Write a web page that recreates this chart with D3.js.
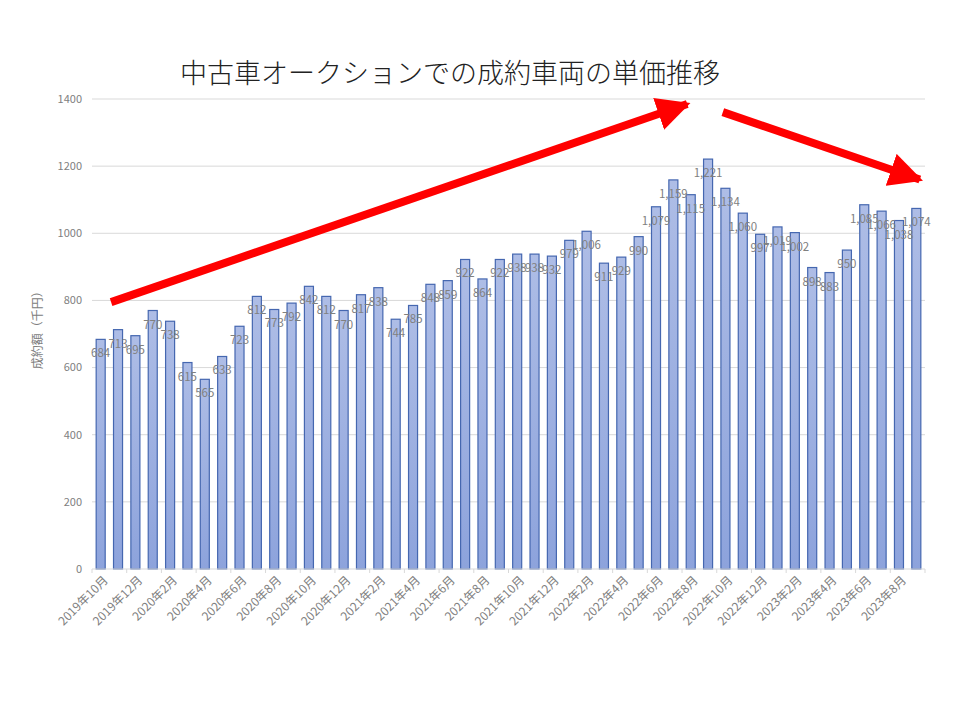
<!DOCTYPE html>
<html>
<head>
<meta charset="utf-8">
<script src="https://cdn.jsdelivr.net/npm/d3@7"></script>
<style>
  body { margin: 0; background: #fff; }
  text { font-family: "Noto Sans CJK JP", "Noto Sans", sans-serif; }
</style>
</head>
<body>
<div id="chart"></div>
<script>
// months 2019/10 - 2023/9
var months = [];
for (var i = 0; i < 48; i++) {
    var yr = 2019 + Math.floor((9 + i) / 12), mo = (9 + i) % 12 + 1;
    months.push(yr + "年" + mo + "月");
}
var prices = [684, 713, 695, 770, 738, 615, 565, 633, 723, 812, 773, 792,
              842, 812, 770, 817, 838, 744, 785, 848, 859, 922, 864, 922,
              938, 938, 932, 979, 1006, 911, 929, 990, 1079, 1159, 1115, 1221,
              1134, 1060, 997, 1019, 1002, 898, 883, 950, 1085, 1066, 1038, 1074];
var yTicks = [0, 200, 400, 600, 800, 1000, 1200, 1400];
// arrows in [bar index, value] units
var arrowUp = [[1.1, 795], [34.3, 1385]];
var arrowDown = [[36.35, 1361], [47.7, 1160]];

var title = "中古車オークションでの成約車両の単価推移";
var yTitle = "成約額（千円）";

var W = 960, H = 720;
var margin = {top: 99, right: 35, bottom: 151, left: 92},
    width = W - margin.left - margin.right,
    height = H - margin.top - margin.bottom;

var svg = d3.select("#chart").append("svg")
    .attr("width", W)
    .attr("height", H);

var defs = svg.append("defs");
var grad = defs.append("linearGradient").attr("id", "barGrad")
    .attr("x1", 0).attr("y1", 0).attr("x2", 0).attr("y2", 1);
grad.append("stop").attr("offset", "0%").attr("stop-color", "#aebde6");
grad.append("stop").attr("offset", "100%").attr("stop-color", "#8da3dc");

defs.append("marker").attr("id", "head")
    .attr("viewBox", "0 0 10 10")
    .attr("refX", 9).attr("refY", 5)
    .attr("markerWidth", 4.2).attr("markerHeight", 4.2)
    .attr("markerUnits", "strokeWidth")
    .attr("orient", "auto")
    .append("path").attr("d", "M0,0 L10,5 L0,10 Z").attr("fill", "#ff0000");

svg.append("text")
    .attr("x", 180).attr("y", 83)
    .attr("font-size", 27)
    .attr("font-weight", 300)
    .attr("fill", "#222")
    .text(title);

var g = svg.append("g")
    .attr("transform", "translate(" + margin.left + "," + margin.top + ")");

var x = d3.scaleBand().domain(months).range([0, width]).paddingInner(0.48).paddingOuter(0.24);
var xi = d3.scaleLinear().domain([0, months.length]).range([0, width]);
var y = d3.scaleLinear().domain([0, 1400]).range([height, 0]);

// gridlines
g.selectAll(".grid")
    .data(yTicks.slice(1))
    .enter().append("line")
    .attr("x1", 0).attr("x2", width)
    .attr("y1", function(d) { return y(d); })
    .attr("y2", function(d) { return y(d); })
    .attr("stroke", "#d9d9d9").attr("stroke-width", 1);

// y tick labels
g.selectAll(".ylab")
    .data(yTicks)
    .enter().append("text")
    .attr("x", -10)
    .attr("y", function(d) { return y(d); })
    .attr("dy", "0.35em")
    .attr("text-anchor", "end")
    .attr("font-size", 11)
    .attr("fill", "#808080")
    .text(function(d) { return d; });

svg.append("text")
    .attr("transform", "translate(42," + (margin.top + y(720)) + ") rotate(-90)")
    .attr("text-anchor", "middle")
    .attr("font-size", 12)
    .attr("fill", "#808080")
    .text(yTitle);

// bars
g.selectAll(".bar")
    .data(prices)
    .enter().append("rect")
    .attr("class", "bar")
    .attr("x", function(d, i) { return x(months[i]); })
    .attr("width", x.bandwidth())
    .attr("y", function(d) { return y(d); })
    .attr("height", function(d) { return height - y(d); })
    .attr("fill", "url(#barGrad)")
    .attr("stroke", "#4567b0")
    .attr("stroke-width", 1.2);

// data labels (inside end)
g.selectAll(".val")
    .data(prices)
    .enter().append("text")
    .attr("x", function(d, i) { return x(months[i]) + x.bandwidth() / 2; })
    .attr("y", function(d) { return y(d) + 18; })
    .attr("text-anchor", "middle")
    .attr("font-size", 11.5)
    .attr("fill", "#808080")
    .text(function(d) { return d3.format(",")(d); });

// x axis line + ticks every 2 months
g.append("line")
    .attr("x1", 0).attr("x2", width)
    .attr("y1", height).attr("y2", height)
    .attr("stroke", "#d9d9d9");

var tickIdx = d3.range(0, months.length + 1, 2);
g.selectAll(".xtick")
    .data(tickIdx)
    .enter().append("line")
    .attr("x1", function(d) { return xi(d); })
    .attr("x2", function(d) { return xi(d); })
    .attr("y1", height).attr("y2", height + 4)
    .attr("stroke", "#d9d9d9");

g.selectAll(".xlab")
    .data(months.filter(function(d, i) { return i % 2 === 0; }))
    .enter().append("text")
    .attr("transform", function(d) {
        return "translate(" + (x(d) + x.bandwidth() / 2 + 5) + "," + (height + 9) + ") rotate(-45)";
    })
    .attr("text-anchor", "end")
    .attr("dy", "0.35em")
    .attr("font-size", 12)
    .attr("fill", "#808080")
    .text(function(d) { return d; });

// red trend arrows
[arrowUp, arrowDown].forEach(function(a) {
    g.append("line")
        .attr("x1", xi(a[0][0])).attr("y1", y(a[0][1]))
        .attr("x2", xi(a[1][0])).attr("y2", y(a[1][1]))
        .attr("stroke", "#ff0000")
        .attr("stroke-width", 8)
        .attr("marker-end", "url(#head)");
});
</script>
</body>
</html>
